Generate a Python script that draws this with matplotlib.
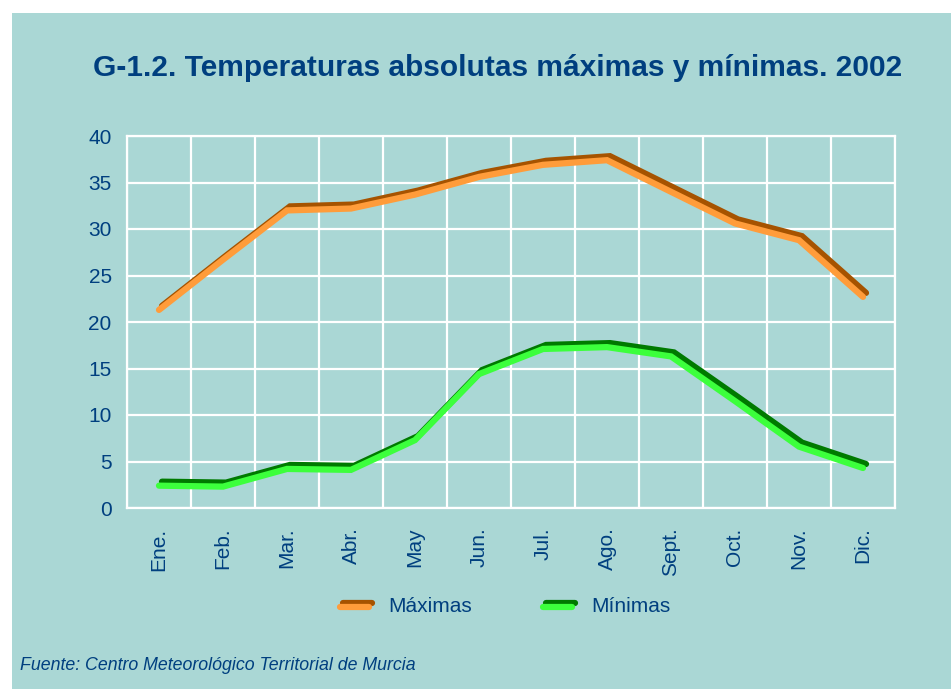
import matplotlib
matplotlib.use("Agg")
import matplotlib.pyplot as plt
import matplotlib.transforms as mtransforms
from matplotlib.lines import Line2D
from matplotlib.patches import Rectangle

months = ['Ene.', 'Feb.', 'Mar.', 'Abr.', 'May', 'Jun.', 'Jul.', 'Ago.', 'Sept.', 'Oct.', 'Nov.', 'Dic.']
maximas = [21.3, 26.7, 32.0, 32.2, 33.7, 35.6, 36.9, 37.4, 34.0, 30.6, 28.8, 22.7]
minimas = [2.4, 2.3, 4.2, 4.1, 7.3, 14.4, 17.1, 17.3, 16.3, 11.5, 6.6, 4.3]
yticks = [0, 5, 10, 15, 20, 25, 30, 35, 40]

bg = '#aad7d5'
txt = '#003f7f'
plt.rcParams['font.family'] = ['Liberation Sans', 'DejaVu Sans']

fig = plt.figure(figsize=(9.51, 6.89), dpi=100)
fig.patch.set_facecolor('white')
# teal panel, white margin on top and left
fig.patches.append(Rectangle((12/951, 0), 1, 1 - 13/689, transform=fig.transFigure,
                             facecolor=bg, edgecolor='none', zorder=-10))

ax = fig.add_axes([127/951, 1 - 508/689, 768/951, 372/689])
ax.set_facecolor(bg)

x = list(range(len(months)))
shadow = mtransforms.offset_copy(ax.transData, fig=fig, x=3, y=4, units='dots')
ax.plot(x, maximas, color='#a65300', lw=4.5, solid_capstyle='round', solid_joinstyle='miter',
        transform=shadow, zorder=3)
ax.plot(x, maximas, color='#ff9c3a', lw=4.5, solid_capstyle='round', solid_joinstyle='miter', zorder=4)
ax.plot(x, minimas, color='#007a00', lw=4.5, solid_capstyle='round', solid_joinstyle='miter',
        transform=shadow, zorder=3)
ax.plot(x, minimas, color='#3cff3c', lw=4.5, solid_capstyle='round', solid_joinstyle='miter', zorder=4)

ax.set_xlim(-0.5, len(months) - 0.5)
ax.set_ylim(0, 40)
ax.set_yticks(yticks)
ax.set_xticks(x)
ax.set_xticklabels(months, rotation=90, color=txt, fontsize=15)
ax.set_xticks([i + 0.5 for i in range(-1, len(months))], minor=True)
ax.tick_params(axis='y', colors=txt, labelsize=15, length=0, pad=11)
ax.tick_params(axis='x', which='both', length=0, pad=14)
ax.grid(True, axis='y', color='white', lw=1.6)
ax.grid(True, axis='x', which='minor', color='white', lw=1.6)
ax.grid(False, axis='x', which='major')
ax.set_axisbelow(True)
for s in ax.spines.values():
    s.set_color('white')
    s.set_linewidth(1.6)

fig.text(498/951, 1 - 68/689, 'G-1.2. Temperaturas absolutas máximas y mínimas. 2002',
         ha='center', va='center', fontsize=21.5, fontweight='bold', color=txt)

# legend drawn by hand so the swatches get the same shadow look
for lx, label, dark, light in [(340, 'Máximas', '#a65300', '#ff9c3a'),
                               (543, 'Mínimas', '#007a00', '#3cff3c')]:
    yy = 1 - 607/689
    fig.add_artist(Line2D([(lx + 3)/951, (lx + 32)/951], [yy + 4/689, yy + 4/689],
                          transform=fig.transFigure, color=dark, lw=4.5, solid_capstyle='round'))
    fig.add_artist(Line2D([lx/951, (lx + 29)/951], [yy, yy],
                          transform=fig.transFigure, color=light, lw=4.5, solid_capstyle='round'))
    fig.text((lx + 48)/951, yy + 1/689, label, ha='left', va='center', fontsize=15, color=txt)

fig.text(20/951, 1 - 665/689, 'Fuente: Centro Meteorológico Territorial de Murcia',
         ha='left', va='center', fontsize=12.8, style='italic', color=txt)

fig.savefig('out.png', dpi=100, facecolor=fig.get_facecolor())
